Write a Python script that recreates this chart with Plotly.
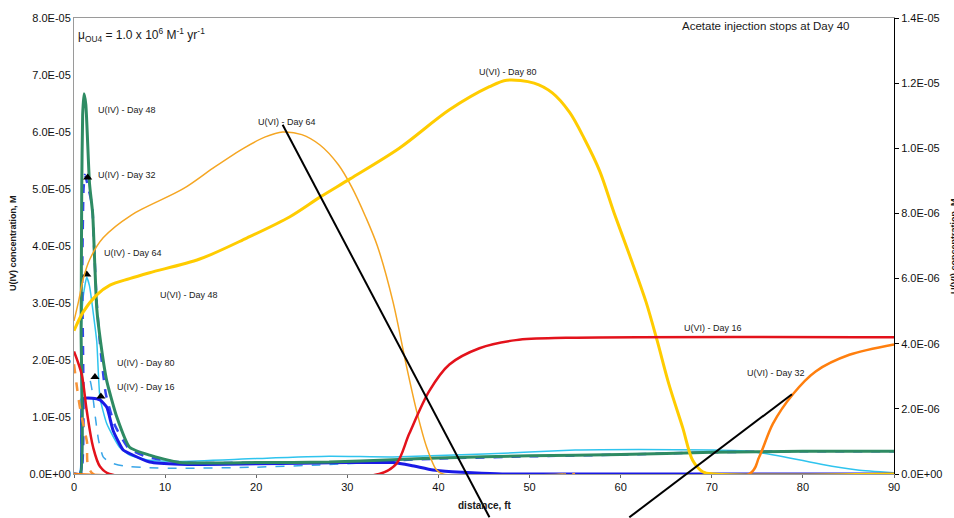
import plotly.graph_objects as go

# distance (ft) and concentrations
# U(IV) series -> left axis (values in 1e-5 M)
iv16_x = [0, 0.7, 0.85, 1.0, 2.0, 2.85, 3.6, 4.3, 5.4, 6.1, 8.3, 11.6, 20, 30, 35, 37, 39.4, 41.5, 43.7, 47, 90]
iv16_y = [0, 0, 1.0, 1.32, 1.33, 1.3, 1.17, 0.76, 0.42, 0.36, 0.21, 0.17, 0.18, 0.2, 0.2, 0.15, 0.07, 0.04, 0.02, 0, 0]

iv32_x = [0, 0.75, 0.9, 1.05, 1.2, 1.6, 2.0, 2.2, 2.5, 2.9, 3.5, 4.5, 6, 8, 12, 20, 30, 40, 50, 60, 70, 80, 90]
iv32_y = [0, 0, 3.5, 5.0, 5.25, 5.0, 4.7, 4.0, 3.0, 2.2, 1.4, 0.85, 0.45, 0.3, 0.2, 0.2, 0.21, 0.27, 0.31, 0.34, 0.38, 0.4, 0.4]

iv48_x = [0, 0.7, 0.78, 0.85, 0.95, 1.1, 1.3, 1.7, 2.05, 2.3, 2.5, 2.85, 3.6, 4.7, 6.1, 8.3, 11.6, 20, 28, 35, 40, 50, 60, 70, 80, 90]
iv48_y = [0, 0, 2.5, 5.0, 6.3, 6.67, 6.48, 5.1, 4.57, 3.6, 2.9, 2.4, 1.63, 1.0, 0.47, 0.33, 0.2, 0.2, 0.21, 0.25, 0.28, 0.32, 0.34, 0.38, 0.4, 0.4]

iv64_x = [0, 0.6, 0.75, 1.0, 1.4, 1.7, 2.1, 2.5, 2.85, 3.6, 5.0, 6.1, 8.3, 11.6, 20, 28, 35, 45, 55, 62, 70, 74, 78, 82, 86, 90]
iv64_y = [0, 0, 2.3, 3.1, 3.45, 3.3, 2.84, 2.32, 1.34, 0.88, 0.47, 0.33, 0.24, 0.22, 0.27, 0.31, 0.3, 0.35, 0.42, 0.43, 0.42, 0.4, 0.3, 0.17, 0.07, 0.02]

iv80_x = [0, 0.6, 0.75, 1.0, 1.5, 1.75, 2.0, 2.3, 2.7, 3.2, 4.0, 5.5, 8, 11.6, 20, 27, 35]
iv80_y = [0, 0, 1.4, 1.62, 1.68, 1.65, 1.45, 1.05, 0.59, 0.3, 0.2, 0.14, 0.11, 0.1, 0.12, 0.16, 0.22]

# U(VI) series -> right axis (values in 1e-6 M)
vi16_x = [0, 0.84, 1.4, 2.1, 2.85, 3.9, 33.5, 35.4, 36.8, 39.0, 41.2, 44.5, 48.5, 54, 90]
vi16_y = [3.76, 3.06, 1.94, 0.82, 0.23, 0, 0, 0.32, 1.24, 2.55, 3.36, 3.86, 4.11, 4.18, 4.2]

vi32_x = [0, 74.1, 75.2, 76.7, 78.9, 81.4, 85.1, 90]
vi32_y = [0, 0, 0.52, 1.54, 2.45, 3.15, 3.66, 3.98]

vi_dash_x = [0, 0.66, 1.4, 2.1, 55]
vi_dash_y = [3.37, 2.03, 1.03, 0, 0]

vi64_x = [0, 0.5, 1.0, 1.75, 3.2, 6.3, 12, 15.3, 18.6, 21, 22.9, 25, 27, 29, 30.5, 32, 33.3, 35, 36.5, 37.6, 38.7, 39.8, 40.5, 54]
vi64_y = [4.7, 5.3, 5.98, 6.6, 7.25, 7.95, 8.76, 9.4, 10.0, 10.35, 10.5, 10.42, 10.1, 9.5, 8.8, 7.9, 7.0, 5.3, 3.3, 1.94, 0.83, 0.12, 0, 0]

vi80_x = [0, 1.0, 2.5, 3.95, 6.1, 8.3, 13.8, 19, 23.7, 27, 30.3, 35.7, 41.2, 45.6, 47.5, 50.5, 52.5, 54.4, 56, 57.7, 59.3, 61,
          62.8, 64, 65.3, 66.8, 67.9, 69, 70.3, 90]
vi80_y = [4.4, 4.97, 5.5, 5.8, 6.0, 6.18, 6.6, 7.25, 7.9, 8.5, 9.06, 10.0, 11.18, 11.89, 12.09, 12.0, 11.7, 11.1, 10.3, 9.3, 8.0, 6.7,
          5.27, 4.1, 2.75, 1.43, 0.42, 0.07, 0, 0]

# arrowhead markers next to the U(IV) labels
tri_x = [1.5, 1.4, 2.3, 2.95]
tri_y = [5.2, 3.5, 1.7, 1.36]

left_ticks = [i * 1e-5 for i in range(9)]
left_text = ["0.0E+00", "1.0E-05", "2.0E-05", "3.0E-05", "4.0E-05", "5.0E-05", "6.0E-05", "7.0E-05", "8.0E-05"]
right_ticks = [i * 2e-6 for i in range(8)]
right_text = ["0.0E+00", "2.0E-06", "4.0E-06", "6.0E-06", "8.0E-06", "1.0E-05", "1.2E-05", "1.4E-05"]

FONT = "Arial, Liberation Sans, sans-serif"

fig = go.Figure()

def left(x, y, color, width, dash="solid", name=""):
  fig.add_trace(go.Scatter(x=x, y=[v * 1e-5 for v in y], mode="lines", name=name,
                           line=dict(color=color, width=width, dash=dash, shape="spline", smoothing=0.5)))

def right(x, y, color, width, dash="solid", name=""):
  fig.add_trace(go.Scatter(x=x, y=[v * 1e-6 for v in y], mode="lines", name=name, yaxis="y2",
                           line=dict(color=color, width=width, dash=dash, shape="spline", smoothing=0.9)))

left(iv80_x, iv80_y, "#3aa6e8", 1.5, "dash", "U(IV) - Day 80")
left(iv64_x, iv64_y, "#2fc4ee", 1.5, name="U(IV) - Day 64")
left(iv32_x, iv32_y, "#3344ee", 2.5, "dash", "U(IV) - Day 32")
left(iv16_x, iv16_y, "#1a1ae6", 3, name="U(IV) - Day 16")
left(iv48_x, iv48_y, "#2e8b63", 3, name="U(IV) - Day 48")
fig.add_trace(go.Scatter(x=tri_x, y=[v * 1e-5 for v in tri_y], mode="markers",
                         marker=dict(symbol="triangle-up", size=8, color="black"), showlegend=False))

right(vi_dash_x, vi_dash_y, "#f7943a", 2.5, "dash")
right(vi64_x, vi64_y, "#f5a623", 1.5, name="U(VI) - Day 64")
right(vi80_x, vi80_y, "#ffcc00", 3, name="U(VI) - Day 80")
right(vi16_x, vi16_y, "#e3121b", 2.5, name="U(VI) - Day 16")
right(vi32_x, vi32_y, "#ff7f0e", 2.5, name="U(VI) - Day 32")

# leader lines
fig.add_shape(type="line", xref="x", yref="paper", x0=22.9, y0=0.766, x1=45.6, y1=-0.095,
              line=dict(color="black", width=2))
fig.add_shape(type="line", xref="x", yref="paper", x0=78.8, y0=0.175, x1=60.95, y1=-0.095,
              line=dict(color="black", width=2))


def note(px, py, txt, size=9, bold=False, angle=0, anchor="center"):
  # position given in window pixels of the plot
  if bold:
    txt = "<b>" + txt + "</b>"
  fig.add_annotation(x=(px - 74) / 821, y=(474 - py) / 462, xref="paper", yref="paper", text=txt,
                     xanchor=anchor, yanchor="middle", textangle=angle, showarrow=False,
                     font=dict(size=size, color="#1a1a1a", family=FONT))

labels = [
  (127, 105, "U(IV) - Day 48"), (127, 171, "U(IV) - Day 32"), (133, 250, "U(IV) - Day 64"),
  (189, 293, "U(VI) - Day 48"), (146, 362, "U(IV) - Day 80"), (146, 386, "U(IV) - Day 16"),
  (287, 117, "U(VI) - Day 64"), (509, 67, "U(VI) - Day 80"), (714, 326, "U(VI) - Day 16"),
  (777, 372, "U(VI) - Day 32"),
]
for px, py, txt in labels:
  note(px, py, txt)

note(767, 20, "Acetate injection stops at Day 40", size=11.5)
note(76, 29, "\u03bc<sub>OU4</sub> = 1.0 x 10<sup>6</sup> M<sup>-1</sup> yr<sup>-1</sup>", size=12, anchor="left")
note(13, 240, "U(IV) concentration, M", bold=True, angle=-90)
note(955, 243, "U(VI) concentration, M", bold=True, angle=-90)
note(485, 506, "distance, ft", size=10, bold=True)

fig.update_layout(
  width=954, height=518,
  margin=dict(l=74, r=59, t=12, b=44),
  paper_bgcolor="white", plot_bgcolor="white",
  showlegend=False,
  font=dict(family=FONT, size=11, color="#111"),
  xaxis=dict(range=[0, 90], tickvals=list(range(0, 91, 10)), showgrid=False, zeroline=False,
             showline=True, linecolor="#9a9a9a", linewidth=1, mirror=True,
             ticks="outside", ticklen=3, tickcolor="#666", tickfont=dict(size=11)),
  yaxis=dict(range=[0, 8e-5], tickvals=left_ticks, ticktext=left_text, showgrid=False, zeroline=False,
             showline=True, linecolor="#9a9a9a", linewidth=1, ticks="", tickfont=dict(size=11)),
  yaxis2=dict(range=[0, 1.4e-5], tickvals=right_ticks, ticktext=right_text, overlaying="y", side="right",
              showgrid=False, zeroline=False, showline=True, linecolor="black", linewidth=1,
              ticks="outside", ticklen=4, tickcolor="black", tickfont=dict(size=11)),
)

# page body has a default 8px margin; drop it so the chart sits at the window's corner
fig.write_html("out.html", config={"displayModeBar": False},
               post_script="document.body.style.margin='0';document.body.style.overflow='hidden';")
